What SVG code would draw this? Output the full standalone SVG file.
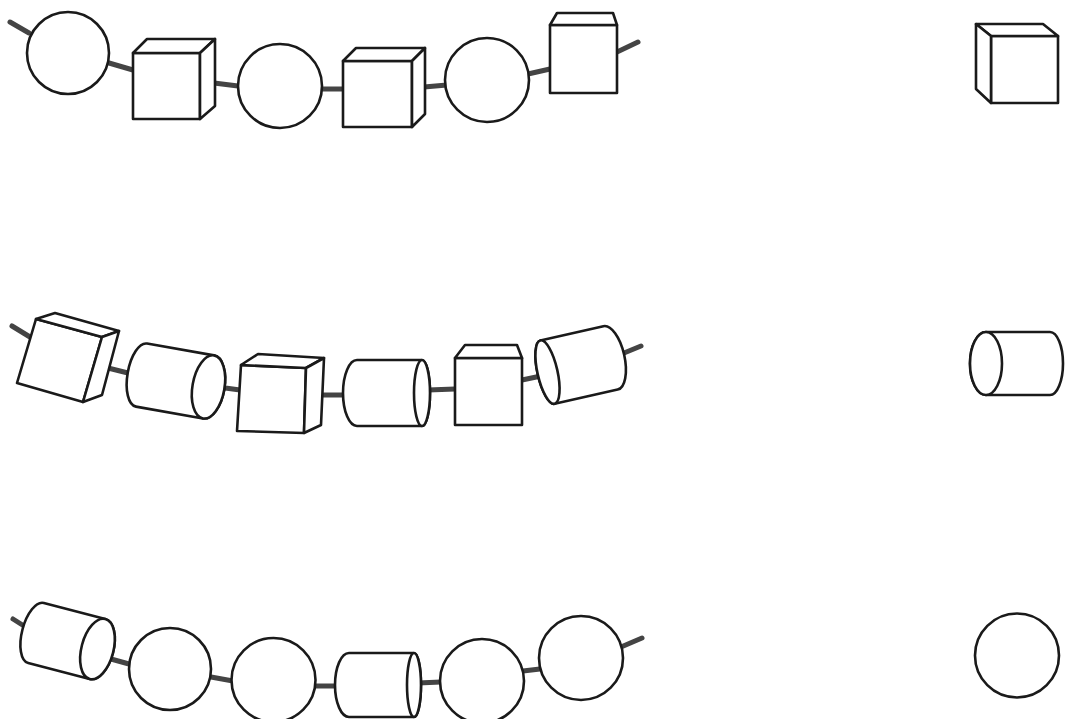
<svg xmlns="http://www.w3.org/2000/svg" width="1065" height="719" viewBox="0 0 1065 719">
<style>
.s{stroke:#1a1a1a;stroke-width:2.6;fill:#fff;stroke-linejoin:round}
.c{stroke:#444;stroke-width:5;stroke-linecap:round;fill:none}
</style>
<rect width="1065" height="719" fill="#fff"/>
<g id="connectors">
<line class="c" x1="10" y1="22" x2="29" y2="33"/>
<line class="c" x1="109" y1="63" x2="133" y2="70"/>
<line class="c" x1="214" y1="83" x2="238" y2="86"/>
<line class="c" x1="322" y1="89" x2="343" y2="89"/>
<line class="c" x1="424" y1="87" x2="447" y2="85"/>
<line class="c" x1="528" y1="74" x2="550" y2="69"/>
<line class="c" x1="617" y1="52" x2="638" y2="42"/>
<line class="c" x1="12" y1="326" x2="30" y2="337"/>
<line class="c" x1="100" y1="366" x2="128" y2="373"/>
<line class="c" x1="218" y1="387" x2="240" y2="390"/>
<line class="c" x1="322" y1="395" x2="343" y2="395"/>
<line class="c" x1="428" y1="390" x2="455" y2="389"/>
<line class="c" x1="522" y1="380" x2="541" y2="376"/>
<line class="c" x1="624" y1="353" x2="641" y2="346"/>
<line class="c" x1="13" y1="619" x2="24" y2="626"/>
<line class="c" x1="111" y1="659" x2="129" y2="664"/>
<line class="c" x1="211" y1="677" x2="233" y2="681"/>
<line class="c" x1="314" y1="686" x2="336" y2="686"/>
<line class="c" x1="418" y1="683" x2="441" y2="682"/>
<line class="c" x1="523" y1="671" x2="540" y2="669"/>
<line class="c" x1="621" y1="647" x2="642" y2="638"/>
</g>
<g id="r1-circle1"><circle class="s" cx="68" cy="53" r="41"/></g>
<g id="r1-cube1">
<rect class="s" x="133" y="53" width="67" height="66"/>
<polygon class="s" points="133,53 147,39 215,39 200,53"/>
<polygon class="s" points="200,53 215,39 215,106 200,119"/>
</g>
<g id="r1-circle2"><circle class="s" cx="280" cy="86" r="42"/></g>
<g id="r1-cube2">
<rect class="s" x="343" y="61" width="69" height="66"/>
<polygon class="s" points="343,61 356,48 425,48 412,61"/>
<polygon class="s" points="412,61 425,48 425,114 412,127"/>
</g>
<g id="r1-circle3"><circle class="s" cx="487" cy="80" r="42"/></g>
<g id="r1-cube3">
<rect class="s" x="550" y="25" width="67" height="68"/>
<polygon class="s" points="550,25 557,13 613,13 617,25"/>
</g>
<g id="r2-cube1">
<polygon class="s" points="36,319 102,337 83,402 17,383"/>
<polygon class="s" points="36,319 55,313 119,331 102,337"/>
<polygon class="s" points="102,337 119,331 102,395 83,402"/>
</g>
<g id="r2-cyl1" transform="translate(175,381) rotate(10)">
<path class="s" d="M-34,-32 H34 A16,32 0 0 1 34,32 H-34 A14,32 0 0 1 -34,-32 Z"/>
<ellipse class="s" cx="34" cy="0" rx="16" ry="32"/>
</g>
<g id="r2-cube2">
<polygon class="s" points="241,365 306,368 304,433 237,431"/>
<polygon class="s" points="241,365 258,354 324,358 306,368"/>
<polygon class="s" points="306,368 324,358 321,425 304,433"/>
</g>
<g id="r2-cyl2" transform="translate(389.5,393)">
<path class="s" d="M-32.5,-33 H32.5 A8,33 0 0 1 32.5,33 H-32.5 A14,33 0 0 1 -32.5,-33 Z"/>
<ellipse class="s" cx="32.5" cy="0" rx="8" ry="33"/>
</g>
<g id="r2-cube3">
<rect class="s" x="455" y="358" width="67" height="67"/>
<polygon class="s" points="455,358 465,345 517,345 522,358"/>
</g>
<g id="r2-cyl3" transform="translate(579,365) rotate(-12.7) scale(-1,1)">
<path class="s" d="M-32.3,-32.5 H32.3 A10,32.5 0 0 1 32.3,32.5 H-32.3 A14,32.5 0 0 1 -32.3,-32.5 Z"/>
<ellipse class="s" cx="32.3" cy="0" rx="10" ry="32.5"/>
</g>
<g id="r3-cyl1" transform="translate(66.75,641) rotate(14.6)">
<path class="s" d="M-31.75,-31 H31.75 A16,31 0 0 1 31.75,31 H-31.75 A14,31 0 0 1 -31.75,-31 Z"/>
<ellipse class="s" cx="31.75" cy="0" rx="16" ry="31"/>
</g>
<g id="r3-circle1"><circle class="s" cx="170" cy="669" r="41"/></g>
<g id="r3-circle2"><circle class="s" cx="273.5" cy="680" r="42"/></g>
<g id="r3-cyl2" transform="translate(381.5,685)">
<path class="s" d="M-32.5,-32 H32.5 A7,32 0 0 1 32.5,32 H-32.5 A14,32 0 0 1 -32.5,-32 Z"/>
<ellipse class="s" cx="32.5" cy="0" rx="7" ry="32"/>
</g>
<g id="r3-circle3"><circle class="s" cx="482" cy="681" r="42"/></g>
<g id="r3-circle4"><circle class="s" cx="581" cy="658" r="42"/></g>
<g id="answer-cube">
<rect class="s" x="991" y="36" width="67" height="67"/>
<polygon class="s" points="976,24 1043,24 1058,36 991,36"/>
<polygon class="s" points="976,24 991,36 991,103 976,89"/>
</g>
<g id="answer-cylinder" transform="translate(1018,363.5) scale(-1,1)">
<path class="s" d="M-32,-31.5 H32 A16,31.5 0 0 1 32,31.5 H-32 A13,31.5 0 0 1 -32,-31.5 Z"/>
<ellipse class="s" cx="32" cy="0" rx="16" ry="31.5"/>
</g>
<g id="answer-circle"><circle class="s" cx="1017" cy="655.5" r="42"/></g>
</svg>
